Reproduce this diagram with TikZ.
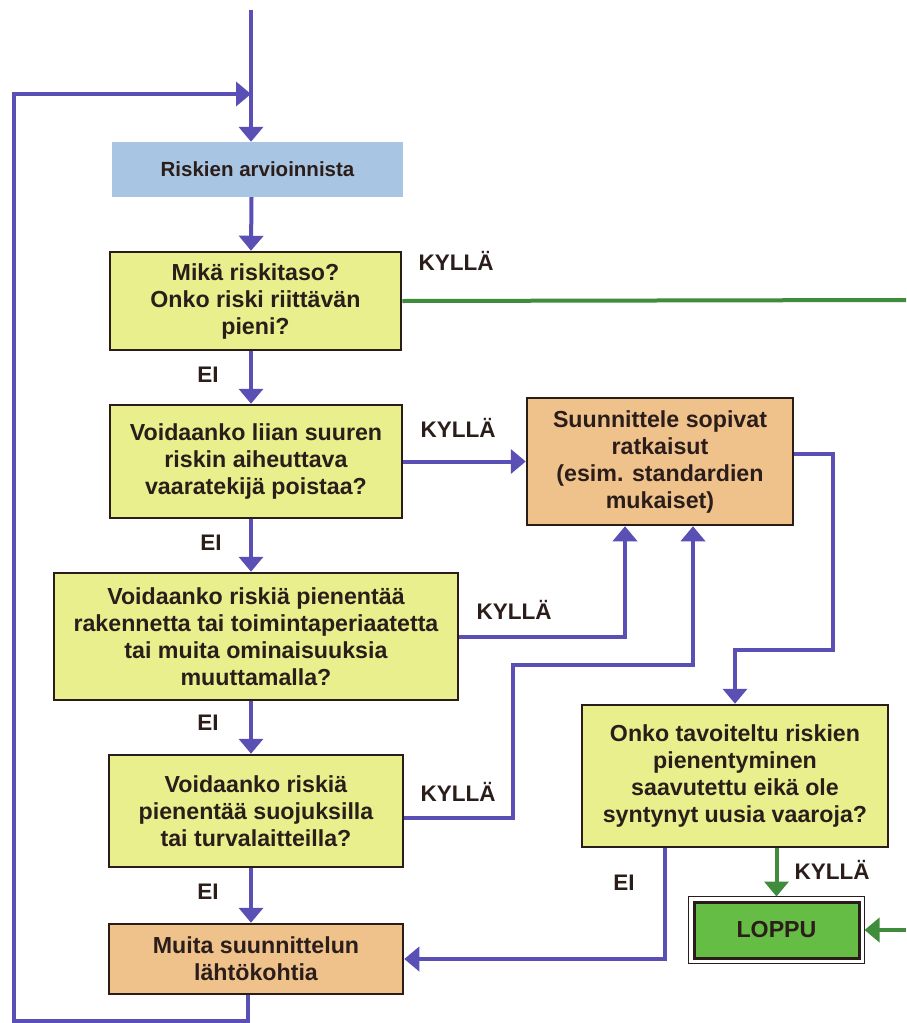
\documentclass[tikz,border=0pt]{standalone}
\usepackage{fontspec}
\setmainfont{Liberation Sans}
\usetikzlibrary{arrows.meta}
\definecolor{lblue}{HTML}{5A4FB4}
\definecolor{lgreen}{HTML}{3F8C3C}
\definecolor{byellow}{HTML}{E8EF8C}
\definecolor{btan}{HTML}{EFC28C}
\definecolor{bblue}{HTML}{A8C5E3}
\definecolor{bgreen}{HTML}{66BD45}
\definecolor{bdark}{HTML}{2A1C18}
\definecolor{txt}{HTML}{2B1D1A}
\begin{document}
\begin{tikzpicture}[x=1pt,y=-1pt,
  boxbase/.style={rectangle, inner sep=0pt, align=center, text=txt,
    font=\bfseries\fontsize{23.2}{27}\selectfont},
  ybox/.style={boxbase, fill=byellow, draw=bdark, line width=2.5pt},
  tbox/.style={boxbase, fill=btan, draw=bdark, line width=2.5pt},
  bbox/.style={boxbase, fill=bblue, font=\bfseries\fontsize{20.5}{24}\selectfont},
  gbox/.style={boxbase, fill=bgreen, draw=bdark, line width=3pt},
  bl/.style={draw=lblue, line width=4pt},
  barr/.style={bl, -{Triangle[width=24pt,length=15pt]}},
  gl/.style={draw=lgreen, line width=4pt},
  garr/.style={gl, -{Triangle[width=24pt,length=15pt]}},
  lab/.style={text=txt, inner sep=0pt, font=\bfseries\fontsize{22.5}{26}\selectfont}
]
\useasboundingbox[fill=white] (0,0) rectangle (906,1023);

% nodes
\node[bbox, minimum width=291pt, minimum height=55pt] (riskien) at (257.5,169.5) {Riskien arvioinnista};
\node[ybox, minimum width=291pt, minimum height=98pt] (mika) at (255.5,301) {Mikä riskitaso?\\Onko riski riittävän\\pieni?};
\node[ybox, minimum width=292pt, minimum height=113pt] (q3) at (256,461.5) {Voidaanko liian suuren\\riskin aiheuttava\\vaaratekijä poistaa?};
\node[ybox, minimum width=404pt, minimum height=127pt] (q4) at (256,636.5) {Voidaanko riskiä pienentää\\rakennetta tai toimintaperiaatetta\\tai muita ominaisuuksia\\muuttamalla?};
\node[ybox, minimum width=294pt, minimum height=112pt] (q5) at (256,811) {Voidaanko riskiä\\pienentää suojuksilla\\tai turvalaitteilla?};
\node[tbox, minimum width=294pt, minimum height=70pt] (muita) at (256,959) {Muita suunnittelun\\lähtökohtia};
\node[tbox, minimum width=266pt, minimum height=127pt] (suun) at (660,461.5) {Suunnittele sopivat\\ratkaisut\\(esim. standardien\\mukaiset)};
\node[ybox, minimum width=306pt, minimum height=142pt] (onko) at (735,776) {Onko tavoiteltu riskien\\pienentyminen\\saavutettu eikä ole\\syntynyt uusia vaaroja?};
\node[gbox, minimum width=165pt, minimum height=56pt] (loppu) at (776.5,930) {LOPPU};
\draw[bdark, line width=1.2pt] ([shift={(-4pt,4pt)}]loppu.north west) rectangle ([shift={(4pt,-4pt)}]loppu.south east);

% labels
\node[lab] (kyl1) at (456,261) {KYLLÄ};
\node[lab] (kyl2) at (458,428) {KYLLÄ};
\node[lab] (kyl3) at (514,610) {KYLLÄ};
\node[lab] (kyl4) at (458,792) {KYLLÄ};
\node[lab] (kyl5) at (832,870) {KYLLÄ};
\node[lab] (ei1) at (208,375) {EI};
\node[lab] (ei2) at (211,543) {EI};
\node[lab] (ei3) at (208,723) {EI};
\node[lab] (ei4) at (208,892) {EI};
\node[lab] (ei5) at (624,883) {EI};

% coordinates
\coordinate (top) at (251,10);
\coordinate (join) at (251,94);
\coordinate (lpb) at (14,1021);
\coordinate (gr1) at (906,300);
\coordinate (gr2) at (906,930);
\coordinate (c1) at (513,665);
\coordinate (c2) at (833,650);

% connectors
\draw[barr] (top) -- ([xshift=-6.5pt]riskien.north);
\draw[barr] ([xshift=-8pt]muita.south) |- (lpb) |- (join);
\draw[barr] ([xshift=-6pt]riskien.south) -- ([xshift=-4.5pt]mika.north);
\draw[barr] ([xshift=-4.5pt]mika.south) -- ([xshift=-5pt]q3.north);
\draw[barr] ([xshift=-5pt]q3.south) -- ([xshift=-5pt]q4.north);
\draw[barr] ([xshift=-5pt]q4.south) -- ([xshift=-5pt]q5.north);
\draw[barr] ([xshift=-5pt]q5.south) -- ([xshift=-5pt]muita.north);
\draw[gl] (mika.east) -- (gr1);
\draw[barr] (q3.east) -- (suun.west);
\draw[barr] (q4.east) -| ([xshift=-35pt]suun.south);
\draw[barr] ([yshift=-7pt]q5.east) -| (c1) -| ([xshift=33pt]suun.south);
\draw[barr] ([yshift=7.5pt]suun.east) -| (c2) -| (onko.north);
\draw[barr] ([xshift=-70pt]onko.south) |- (muita.east);
\draw[garr, shorten >=4pt] ([xshift=41.5pt]onko.south) -- (loppu.north);
\draw[garr, shorten >=4pt] (gr2) -- (loppu.east);
\end{tikzpicture}
\end{document}
